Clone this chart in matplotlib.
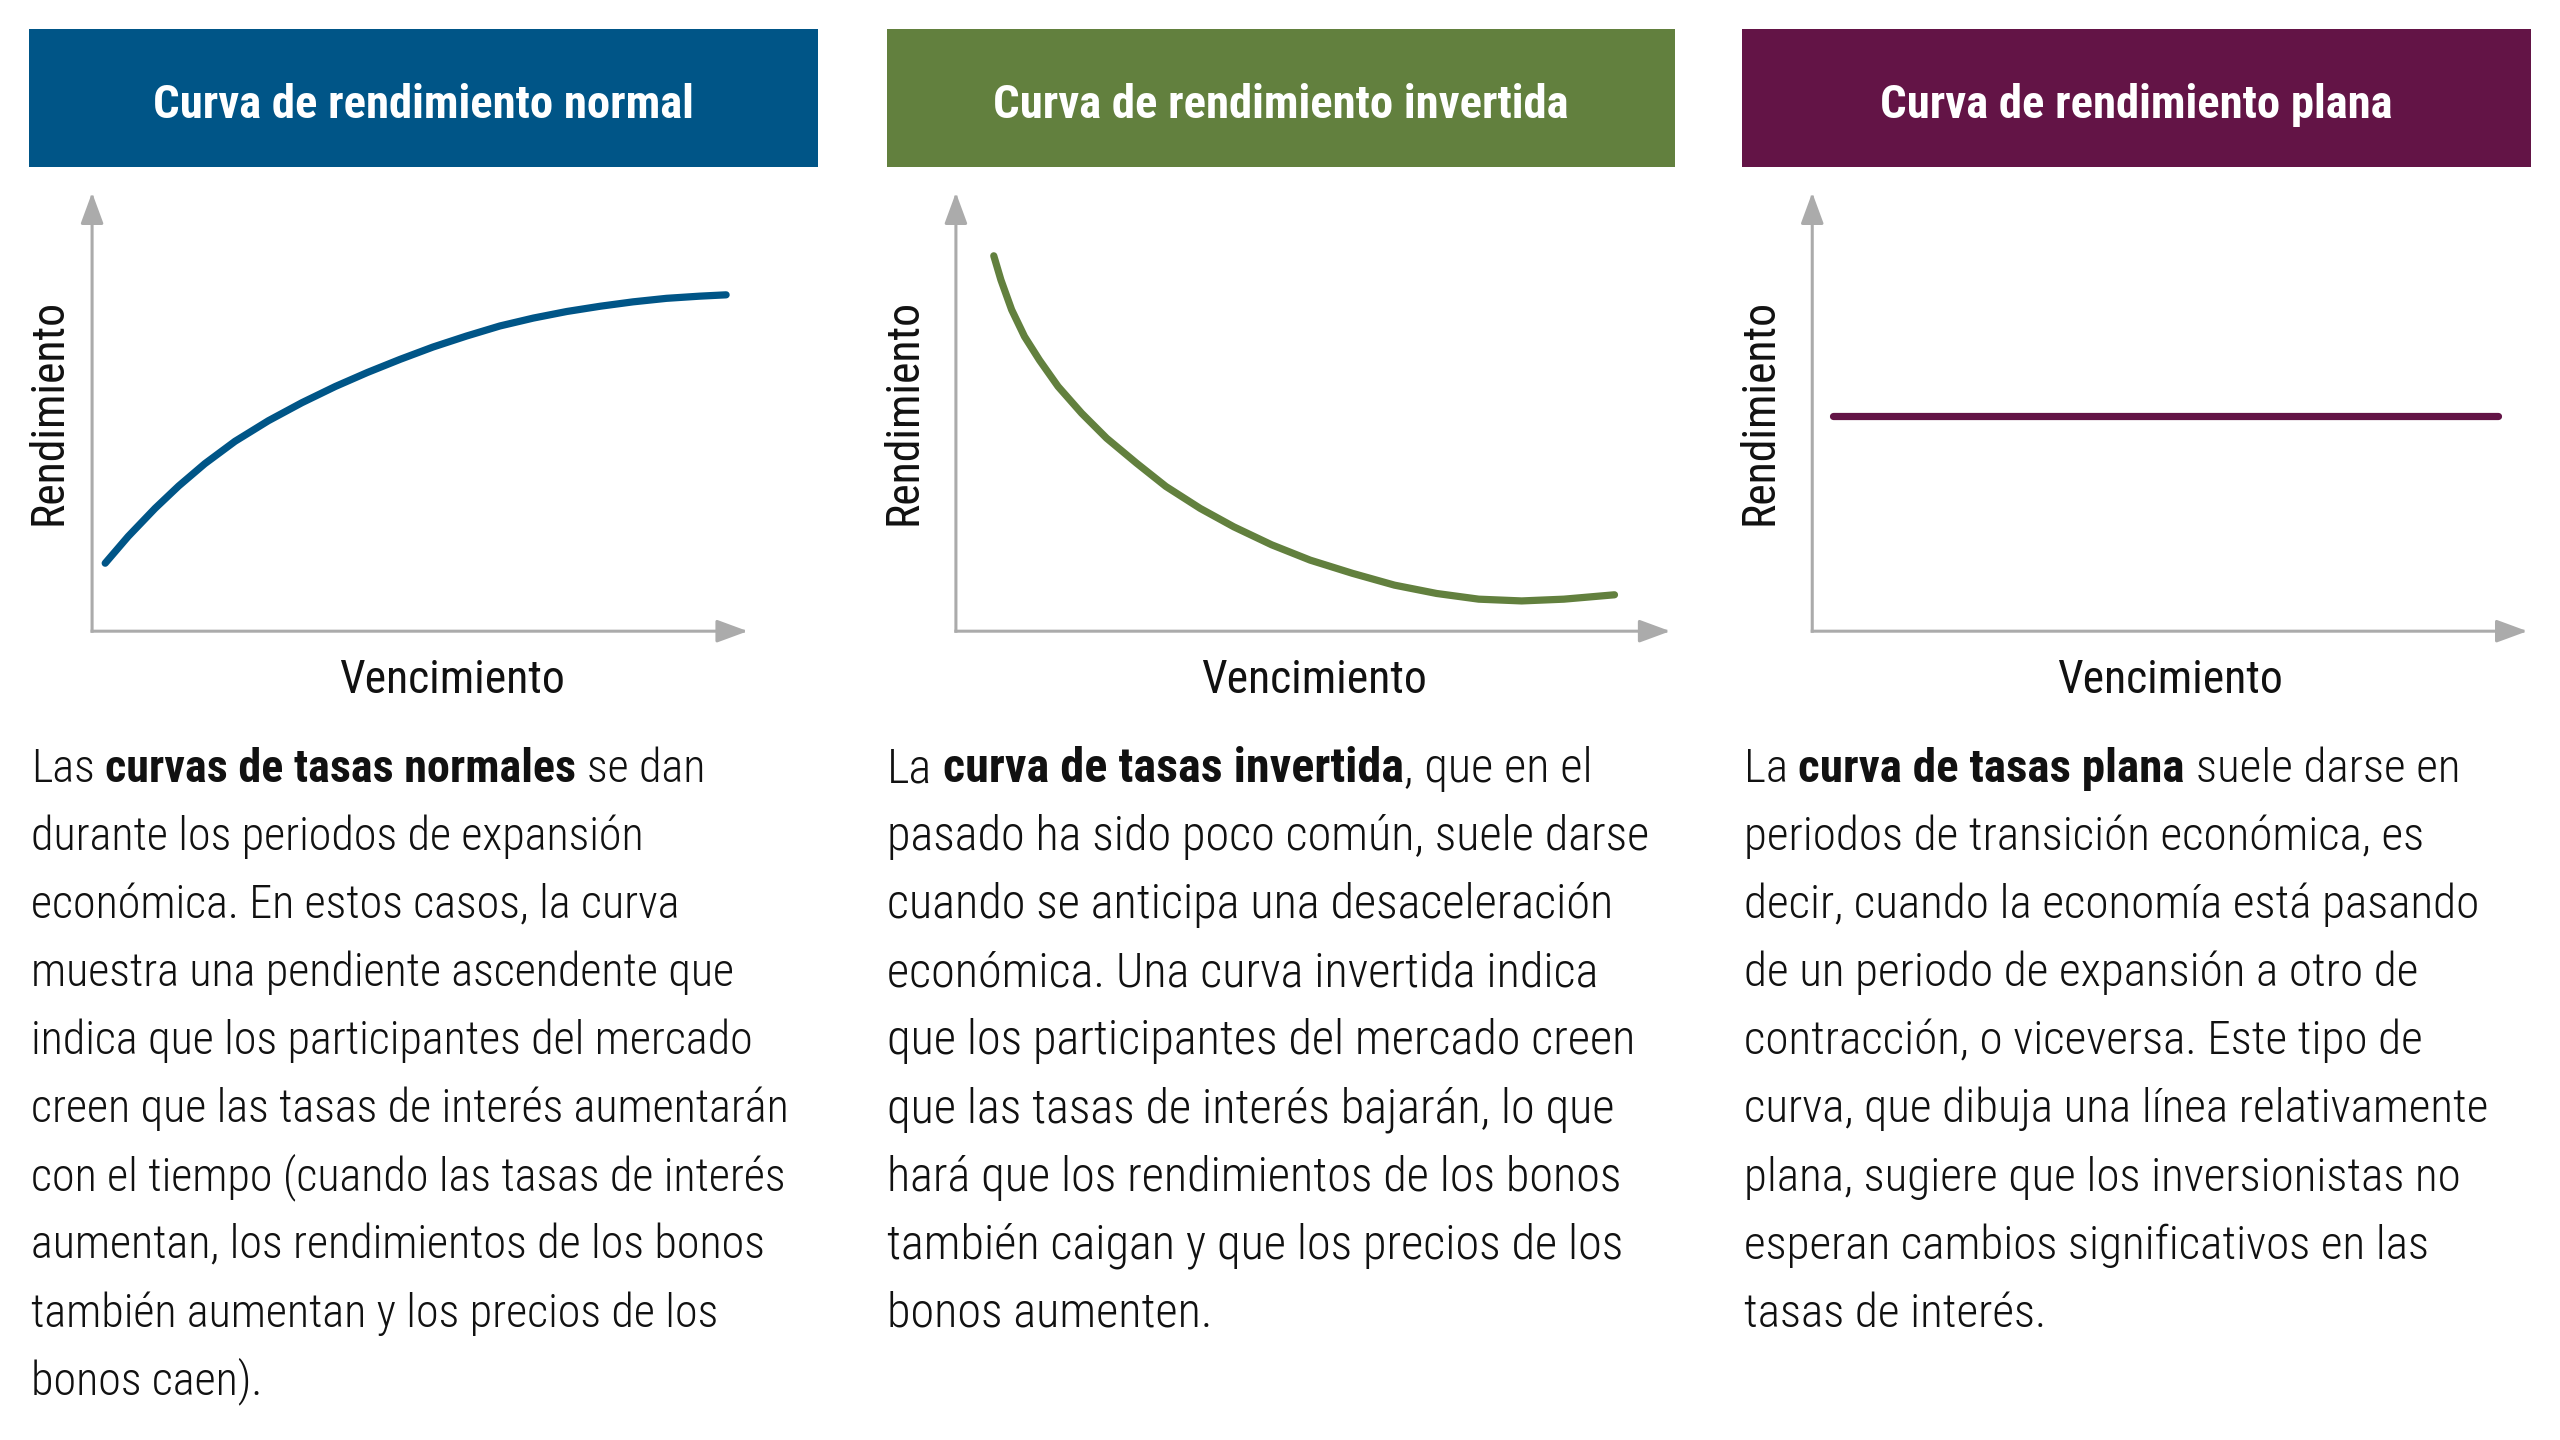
import matplotlib
matplotlib.use("Agg")
import matplotlib.pyplot as plt
from matplotlib import font_manager
from matplotlib.patches import Rectangle

# ---------------- data ----------------
titles = ["Curva de rendimiento normal",
          "Curva de rendimiento invertida",
          "Curva de rendimiento plana"]
colors = ["#005587", "#62803E", "#631446"]
y_label = "Rendimiento"
x_label = "Vencimiento"

# schematic curves (maturity 0-100, yield 0-100)
normal_x = [2.0, 5.5, 9.6, 13.2, 17.2, 21.8, 26.9, 32.0, 37.1, 42.0, 47.0,
            52.0, 57.1, 62.2, 67.3, 72.4, 77.5, 82.5, 87.6, 92.7, 96.7]
normal_y = [15.5, 21.6, 28.0, 33.1, 38.2, 43.3, 48.0, 52.1, 55.8, 59.0, 62.0,
            64.8, 67.3, 69.6, 71.4, 72.9, 74.1, 75.1, 75.9, 76.4, 76.7]

inverted_x = [5.3, 6.3, 7.8, 9.6, 11.7, 14.3, 17.6, 21.1, 25.3, 29.4, 34.2,
              38.9, 44.2, 49.6, 55.5, 61.4, 67.3, 73.2, 79.2, 85.1, 92.2]
inverted_y = [85.6, 80.1, 73.3, 67.2, 61.8, 55.8, 49.7, 44.0, 38.3, 33.0, 28.0,
              23.8, 19.7, 16.2, 13.2, 10.5, 8.6, 7.3, 6.9, 7.3, 8.3]

flat_x = [2.9, 95.9]
flat_y = [49.1, 49.1]

text_normal = [
    [("Las ", False), ("curvas de tasas normales", True), (" se dan", False)],
    [("durante los periodos de expansión", False)],
    [("económica. En estos casos, la curva", False)],
    [("muestra una pendiente ascendente que", False)],
    [("indica que los participantes del mercado", False)],
    [("creen que las tasas de interés aumentarán", False)],
    [("con el tiempo (cuando las tasas de interés", False)],
    [("aumentan, los rendimientos de los bonos", False)],
    [("también aumentan y los precios de los", False)],
    [("bonos caen).", False)],
]
text_inverted = [
    [("La ", False), ("curva de tasas invertida", True), (", que en el", False)],
    [("pasado ha sido poco común, suele darse", False)],
    [("cuando se anticipa una desaceleración", False)],
    [("económica. Una curva invertida indica", False)],
    [("que los participantes del mercado creen", False)],
    [("que las tasas de interés bajarán, lo que", False)],
    [("hará que los rendimientos de los bonos", False)],
    [("también caigan y que los precios de los", False)],
    [("bonos aumenten.", False)],
]
text_flat = [
    [("La ", False), ("curva de tasas plana", True), (" suele darse en", False)],
    [("periodos de transición económica, es", False)],
    [("decir, cuando la economía está pasando", False)],
    [("de un periodo de expansión a otro de", False)],
    [("contracción, o viceversa. Este tipo de", False)],
    [("curva, que dibuja una línea relativamente", False)],
    [("plana, sugiere que los inversionistas no", False)],
    [("esperan cambios significativos en las", False)],
    [("tasas de interés.", False)],
]

# ---------------- layout (reference units: 1568 x 882) ----------------
W, H = 1568.0, 882.0
PX = 2560.0 / W  # output pixels per layout unit

header_x = [18, 543, 1067]
header_w = 483
header_y0, header_y1 = 18, 102
title_base = 72
axes_origin_x = [56.4, 585.5, 1110.0]
axes_tip_x = [458.0, 1023.0, 1548.0]
axes_origin_y = 386.6
axes_tip_y = 118.0
ylab_x = [30.0, 553.5, 1078.0]
ylab_y = 252.5
xlab_cx = [277.0, 805.0, 1329.0]
xlab_base = 424.7
body_x = [19.0, 543.0, 1068.0]
body_base0 = 479.0
body_step = 41.7
body_fit = [(5, 463.0), (1, 482.0), (5, 454.0)]

# ---------------- fonts ----------------
ttf = font_manager.fontManager.ttflist
names = {f.name for f in ttf}


def pick(cands):
    for c in cands:
        if c in names:
            return c
    return "DejaVu Sans"


FAM = pick(["Roboto Condensed", "Liberation Sans Narrow", "Roboto", "DejaVu Sans"])
FAM_LIGHT = pick(["Roboto Condensed Light", "Roboto Condensed", "Roboto Light",
                  "Liberation Sans Narrow", "Roboto", "DejaVu Sans"])
light_w = "light" if FAM_LIGHT in ("Roboto Condensed", "Roboto") else "normal"

fig = plt.figure(figsize=(25.6, 14.4), dpi=100)
fig.patch.set_facecolor("white")
r = fig.canvas.get_renderer()


def width_px(s, size, family, weight):
    t = fig.text(0, 0, s, fontsize=size, family=family, weight=weight)
    w = t.get_window_extent(renderer=r).width
    t.remove()
    return w


def fit(s, target, family, weight, cap):
    w = width_px(s, 20, family, weight)
    return min(cap, 20 * target * PX / w)


title_size = fit(titles[1], 352, FAM, "bold", 40)
label_size = fit(x_label, 138, FAM, "normal", 40)

ax = fig.add_axes([0, 0, 1, 1])
ax.set_xlim(0, W)
ax.set_ylim(H, 0)
ax.axis("off")


def draw_rich(x0, yb, segs, size):
    x = x0
    for s, bold in segs:
        fam = FAM if bold else FAM_LIGHT
        wt = "bold" if bold else light_w
        sp = (width_px("a a", size, fam, wt) - width_px("aa", size, fam, wt)) / PX
        lead = len(s) - len(s.lstrip(" "))
        trail = len(s) - len(s.rstrip(" "))
        core = s.strip(" ")
        x += lead * sp
        t = ax.text(x, yb, core, fontsize=size, family=fam, weight=wt,
                    color="#111111", ha="left", va="baseline")
        x += t.get_window_extent(renderer=r).width / PX + trail * sp


curves = [(normal_x, normal_y), (inverted_x, inverted_y), (flat_x, flat_y)]
bodies = [text_normal, text_inverted, text_flat]

# body text sizes fitted to the reference line widths
fits = []
for i in range(3):
    li, tw = body_fit[i]
    ref_line = "".join(s for s, _ in bodies[i][li])
    fits.append(fit(ref_line, tw, FAM_LIGHT, light_w, 60))
avg13 = 0.5 * (fits[0] + fits[2])
body_sizes = [fits[0], 0.5 * (fits[1] + avg13), fits[2]]

for i in range(3):
    # header
    ax.add_patch(Rectangle((header_x[i], header_y0), header_w, header_y1 - header_y0,
                           facecolor=colors[i], edgecolor="none"))
    ax.text(header_x[i] + header_w / 2, title_base, titles[i], color="white",
            fontsize=title_size, family=FAM, weight="bold", ha="center", va="baseline")

    # plot panel
    ox, tx = axes_origin_x[i], axes_tip_x[i]
    pax = fig.add_axes([ox / W, 1 - axes_origin_y / H, (tx - ox) / W,
                        (axes_origin_y - axes_tip_y) / H])
    pax.set_xlim(0, 100)
    pax.set_ylim(0, 100)
    pax.axis("off")
    aprops = dict(arrowstyle="-|>,head_length=1.9,head_width=0.7", mutation_scale=10,
                  color="#ABABAB", lw=2.2, shrinkA=0, shrinkB=0, capstyle="projecting")
    pax.annotate("", xy=(100, 0), xytext=(0, 0), arrowprops=aprops, annotation_clip=False)
    pax.annotate("", xy=(0, 100), xytext=(0, 0), arrowprops=aprops, annotation_clip=False)
    cx, cy = curves[i]
    pax.plot(cx, cy, color=colors[i], lw=5.2, solid_capstyle="round",
             solid_joinstyle="round", clip_on=False)

    # axis labels
    ax.text(ylab_x[i], ylab_y, y_label, rotation=90, fontsize=label_size, family=FAM,
            color="#111111", ha="center", va="center")
    ax.text(xlab_cx[i], xlab_base, x_label, fontsize=label_size, family=FAM,
            color="#111111", ha="center", va="baseline")

    # body text
    for k, segs in enumerate(bodies[i]):
        draw_rich(body_x[i], body_base0 + k * body_step, segs, body_sizes[i])

fig.savefig("out.png", dpi=100, facecolor="white")
